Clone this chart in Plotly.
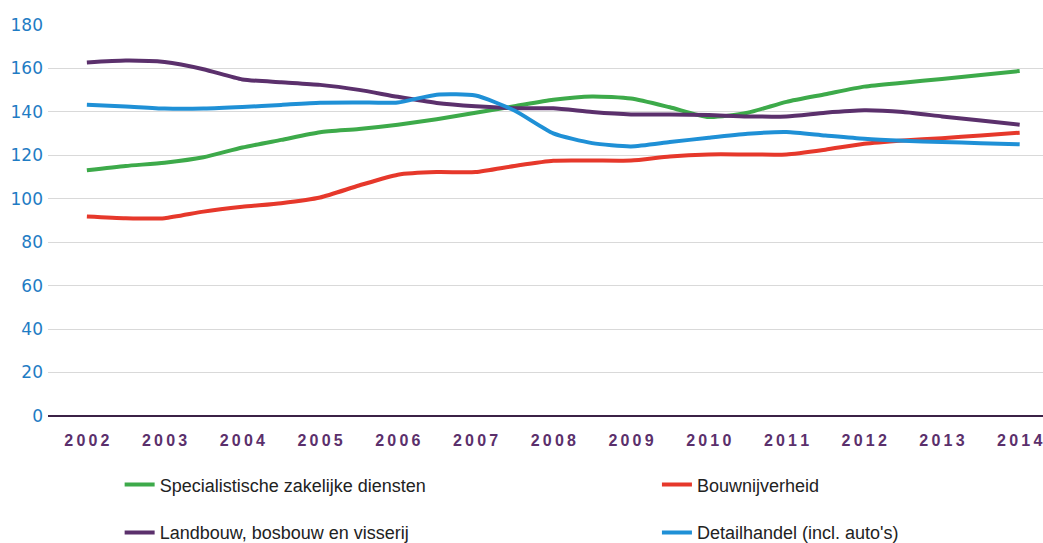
import plotly.graph_objects as go

# half-year points 2002 .. 2014
periods = [2002 + 0.5 * i for i in range(25)]
years = list(range(2002, 2015))

specialistisch = [113, 115, 116.5, 119, 123.5, 127, 130.5, 132, 134, 136.5,
                  139.5, 142.5, 145.5, 147, 146, 142, 137.5, 139.5, 144.5, 148,
                  151.5, 153.3, 155, 156.8, 158.7]
bouw = [91.8, 91, 91, 94, 96.2, 97.9, 100.5, 106, 111, 112.2,
        112.2, 115, 117.4, 117.5, 117.5, 119.4, 120.3, 120.3, 120.3, 122.5,
        125.2, 126.7, 127.8, 129, 130.3]
landbouw = [162.6, 163.5, 162.8, 159.5, 154.8, 153.5, 152.3, 150, 146.8, 144,
            142.5, 141.6, 141.5, 139.8, 138.7, 138.7, 138.4, 137.8, 137.8, 139.5,
            140.6, 139.8, 137.8, 135.9, 134]
detailhandel = [143.2, 142.4, 141.4, 141.4, 142.1, 143.1, 144.1, 144.2, 144.2, 147.8,
                147.4, 140.5, 130, 125.5, 124, 126, 128, 129.8, 130.6, 129,
                127.5, 126.6, 126, 125.5, 125]

series = [
    ("Specialistische zakelijke diensten", specialistisch, "#3daa4a", "legend"),
    ("Bouwnijverheid", bouw, "#e6382b", "legend2"),
    ("Landbouw, bosbouw en visserij", landbouw, "#5b306c", "legend3"),
    ("Detailhandel (incl. auto's)", detailhandel, "#1f90d6", "legend4"),
]

fig = go.Figure()
for name, vals, color, leg in series:
    fig.add_trace(go.Scatter(x=periods, y=vals, name=name, mode="lines",
                             line=dict(color=color, width=4, shape="spline", smoothing=0.6),
                             legend=leg))

legend_font = dict(family="Liberation Sans, Arial", size=18, color="#222222")
def leg(x, y):
    return dict(x=x, y=y, xanchor="left", yanchor="middle", yref="container",
                font=legend_font, bgcolor="rgba(0,0,0,0)", itemwidth=30)

fig.update_layout(
    width=1043, height=543,
    margin=dict(l=48, r=0, t=24, b=127),
    plot_bgcolor="white", paper_bgcolor="white",
    legend=leg(0.072, 0.107),
    legend2=leg(0.612, 0.107),
    legend3=leg(0.072, 0.019),
    legend4=leg(0.612, 0.019),
    showlegend=True,
)
fig.update_xaxes(range=[2001.5, 2014.3], tickvals=years,
                 ticktext=["\u2009".join(str(y)) for y in years],
                 tickfont=dict(family="Liberation Sans, Arial", size=16, color="#5b306c",
                               weight="bold"),
                 showgrid=False, zeroline=False, showline=False, ticks="",
                 ticklabelstandoff=13, automargin=False)
fig.update_yaxes(range=[0, 180.3], tickvals=list(range(0, 181, 20)),
                 showgrid=True, gridcolor="#d9d9d9",
                 gridwidth=1, zeroline=True, zerolinecolor="#3b2146", zerolinewidth=2,
                 tickfont=dict(family="DejaVu Sans", size=17, color="#1f7cc4"),
                 ticklabelstandoff=4, automargin=False)

# page without the browser's default body margin
fig.write_html("out.html", config={"displayModeBar": False},
               post_script="document.body.style.margin='0';")
